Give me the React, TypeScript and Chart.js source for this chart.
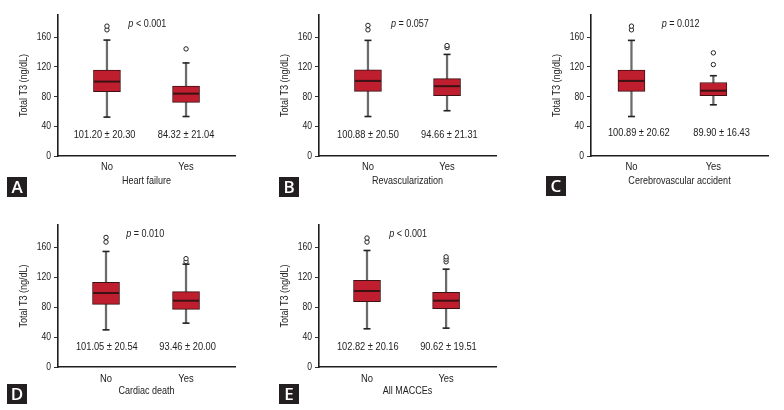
import React, { useEffect, useRef } from 'react';
import { Chart, registerables } from 'chart.js';

Chart.register(...registerables);

// ---------- data ----------
const categories = ['No', 'Yes'];
const yTickValues = [0, 40, 80, 120, 160];
const panelLetters = ['A', 'B', 'C', 'D', 'E'];
const xTitles = ['Heart failure', 'Revascularization', 'Cerebrovascular accident', 'Cardiac death', 'All MACCEs'];
const yTitle = 'Total T3 (ng/dL)';
const pRelations = ['< 0.001', '= 0.057', '= 0.012', '= 0.010', '< 0.001'];
const meanSdLabels = [
  ['101.20 ± 20.30', '84.32 ± 21.04'],
  ['100.88 ± 20.50', '94.66 ± 21.31'],
  ['100.89 ± 20.62', '89.90 ± 16.43'],
  ['101.05 ± 20.54', '93.46 ± 20.00'],
  ['102.82 ± 20.16', '90.62 ± 19.51'],
];
// per panel: [No, Yes]
const whiskerLow = [[52.4, 53.2], [53.2, 61], [53.2, 69], [49.7, 58.7], [51.1, 52]];
const q1 = [[86.7, 72.2], [87.1, 81.4], [87.1, 81.4], [83.9, 77.1], [87.4, 78]];
const median = [[100.3, 84.0], [101.2, 94.1], [101.2, 88], [99, 88.7], [101.7, 88.7]];
const q3 = [[115.8, 94.1], [116.2, 104.3], [115.8, 99], [113.4, 100.8], [116.1, 100]];
const whiskerHigh = [[156.2, 125.4], [155.8, 136.9], [155.8, 108.2], [154.6, 137.6], [155.9, 130.9]];
const outliers = [
  [[170, 175], [144.3]],
  [[170, 176], [146.1, 148.8]],
  [[170, 175], [123.2, 139]],
  [[167.2, 173.4], [141, 145]],
  [[167.2, 172.6], [140.7, 144.3, 147.4]],
];

// ---------- layout / style ----------
const FONT = "'Liberation Sans', Arial, sans-serif";
const SX = 0.82; // horizontal condensing of text
const RED = '#bf1e2e';
const DARK = '#3b1114';
const TEXT = '#222222';
const CANVAS_W = 250;
const CANVAS_H = 200;
const panelLeft = [0, 261, 533, 0, 261];
const panelTop = [0, 0, 0, 200, 200];
const padTop = [12, 12, 12, 25, 25];
const padBottom = [11, 11, 11, 0, 0];
const xRange = [[-0.619, 1.619], [-0.619, 1.619], [-0.494, 1.667], [-0.6, 1.612], [-0.607, 1.631]];
const meanTextX = [[-0.03, 1.0], [0, 1.03], [0.09, 1.1], [0.01, 1.02], [0.01, 1.03]];
const meanTextY = [28, 28, 30.5, 27, 27];
const pTextX = [0.51, 0.53, 0.6, 0.49, 0.52];
const pTextY = 177.5;
const letterPos = [[7, 177], [279, 177], [546, 176], [7, 384], [279, 384]];

function condense(ctx: any) {
  if (ctx.__condensed) return;
  ctx.__condensed = true;
  const orig = ctx.fillText;
  ctx.fillText = function (text: string, x: number, y: number, maxWidth?: number) {
    this.save();
    this.translate(x, y);
    this.scale(SX, 1);
    if (maxWidth !== undefined && maxWidth !== null) orig.call(this, text, 0, 0, maxWidth / SX);
    else orig.call(this, text, 0, 0);
    this.restore();
  };
}

function Panel({ i }: { i: number }) {
  const ref = useRef<HTMLCanvasElement | null>(null);
  useEffect(() => {
    if (!ref.current) return;
    const xs = [0, 1];
    const row = panelTop[i] === 0 ? 0 : 1;
    const annot = {
      id: 'annot' + i,
      beforeDraw(chart: any) {
        condense(chart.ctx);
      },
      afterDatasetsDraw(chart: any) {
        const { ctx, scales } = chart;
        const sx = scales.x;
        const sy = scales.y;
        ctx.save();
        ctx.fillStyle = TEXT;
        ctx.textBaseline = 'middle';
        ctx.textAlign = 'left';
        // p value
        const italic = `italic 11px ${FONT}`;
        const normal = `11px ${FONT}`;
        ctx.font = italic;
        const wp = ctx.measureText('p').width * SX;
        ctx.font = normal;
        const rest = ' ' + pRelations[i];
        const wr = ctx.measureText(rest).width * SX;
        const cx = sx.getPixelForValue(pTextX[i]);
        const cy = sy.getPixelForValue(pTextY);
        const start = cx - (wp + wr) / 2;
        ctx.font = italic;
        ctx.fillText('p', start, cy);
        ctx.font = normal;
        ctx.fillText(rest, start + wp, cy);
        // mean ± sd
        ctx.font = `11.3px ${FONT}`;
        ctx.textAlign = 'center';
        xs.forEach((x) => {
          ctx.fillText(meanSdLabels[i][x], sx.getPixelForValue(meanTextX[i][x]), sy.getPixelForValue(meanTextY[i]));
        });
        ctx.restore();
      },
    };
    const chart = new Chart(ref.current, {
      type: 'bar',
      data: {
        datasets: [
          {
            type: 'bar',
            data: xs.map((x) => ({ x, y: [whiskerLow[i][x], whiskerHigh[i][x]] })),
            backgroundColor: '#6b6b6b',
            barThickness: 1.6,
            maxBarThickness: 1.6,
            grouped: false,
            order: 4,
          } as any,
          {
            type: 'bar',
            data: xs.map((x) => ({ x, y: [q1[i][x], q3[i][x]] })),
            backgroundColor: RED,
            borderColor: DARK,
            borderWidth: 1,
            borderSkipped: false,
            barThickness: 27,
            maxBarThickness: 27,
            grouped: false,
            order: 3,
          } as any,
          {
            type: 'scatter',
            data: xs.map((x) => ({ x, y: median[i][x] })),
            pointStyle: 'line',
            radius: 13,
            borderColor: DARK,
            borderWidth: 2,
            order: 2,
          } as any,
          {
            type: 'scatter',
            data: xs.flatMap((x) => [
              { x, y: whiskerLow[i][x] },
              { x, y: whiskerHigh[i][x] },
            ]),
            pointStyle: 'line',
            radius: 3.5,
            borderColor: '#222',
            borderWidth: 1.6,
            order: 2,
          } as any,
          {
            type: 'scatter',
            data: outliers[i].flatMap((arr, x) => arr.map((y) => ({ x, y }))),
            pointStyle: 'circle',
            radius: 2.2,
            backgroundColor: '#fff',
            borderColor: '#222',
            borderWidth: 1,
            order: 1,
          } as any,
        ],
      },
      options: {
        animation: false,
        responsive: false,
        devicePixelRatio: 1,
        events: [],
        layout: { padding: { left: 0, right: 4, top: padTop[i], bottom: padBottom[i] } },
        plugins: { legend: { display: false }, tooltip: { enabled: false } },
        scales: {
          x: {
            type: 'linear',
            min: xRange[i][0],
            max: xRange[i][1],
            offset: false,
            afterFit: (s: any) => {
              s.height = 33;
            },
            afterBuildTicks: (s: any) => {
              s.ticks = categories.map((_, k) => ({ value: k }));
            },
            ticks: {
              callback: (v: any) => categories[v as number] ?? '',
              font: { family: FONT, size: 11.5 },
              color: TEXT,
              padding: row === 0 ? 4.4 : 5.4,
              autoSkip: false,
              maxRotation: 0,
            },
            grid: { display: false, drawTicks: false, tickLength: 0, offset: false },
            border: { display: true, color: '#1e1e1e', width: 1.6 },
            title: {
              display: true,
              text: xTitles[i],
              font: { family: FONT, size: 11 },
              color: TEXT,
              padding: { top: 0, bottom: row === 0 ? 1.5 : 2.5 },
            },
          },
          y: {
            type: 'linear',
            min: 0,
            max: 190,
            afterFit: (s: any) => {
              s.width = 58;
            },
            afterBuildTicks: (s: any) => {
              s.ticks = yTickValues.map((v) => ({ value: v }));
            },
            ticks: {
              font: { family: FONT, size: 10.5 },
              color: TEXT,
              padding: 3,
            },
            grid: { display: true, drawOnChartArea: false, drawTicks: true, tickLength: 4, color: '#333', lineWidth: 1 },
            border: { display: true, color: '#1e1e1e', width: 1.6 },
            title: {
              display: true,
              text: yTitle,
              font: { family: FONT, size: 11 },
              color: TEXT,
              padding: { top: 17.4, bottom: 0 },
            },
          },
        },
      } as any,
      plugins: [annot],
    });
    return () => chart.destroy();
  }, [i]);
  return (
    <canvas
      ref={ref}
      width={CANVAS_W}
      height={CANVAS_H}
      style={{ position: 'absolute', left: panelLeft[i], top: panelTop[i], width: CANVAS_W, height: CANVAS_H }}
    />
  );
}

export default function App() {
  return (
    <div style={{ position: 'fixed', left: 0, top: 0, width: 784, height: 410, background: '#fff', overflow: 'hidden' }}>
      {panelLetters.map((_, i) => (
        <Panel key={i} i={i} />
      ))}
      {panelLetters.map((l, i) => (
        <div
          key={'l' + i}
          style={{
            position: 'absolute',
            left: letterPos[i][0],
            top: letterPos[i][1],
            width: 20,
            height: 20,
            background: '#231f20',
            color: '#fff',
            fontFamily: "'Open Sans', 'Liberation Sans', sans-serif",
            fontWeight: 600,
            fontSize: 17,
            lineHeight: '20px',
            textAlign: 'center',
          }}
        >
          {l}
        </div>
      ))}
    </div>
  );
}
